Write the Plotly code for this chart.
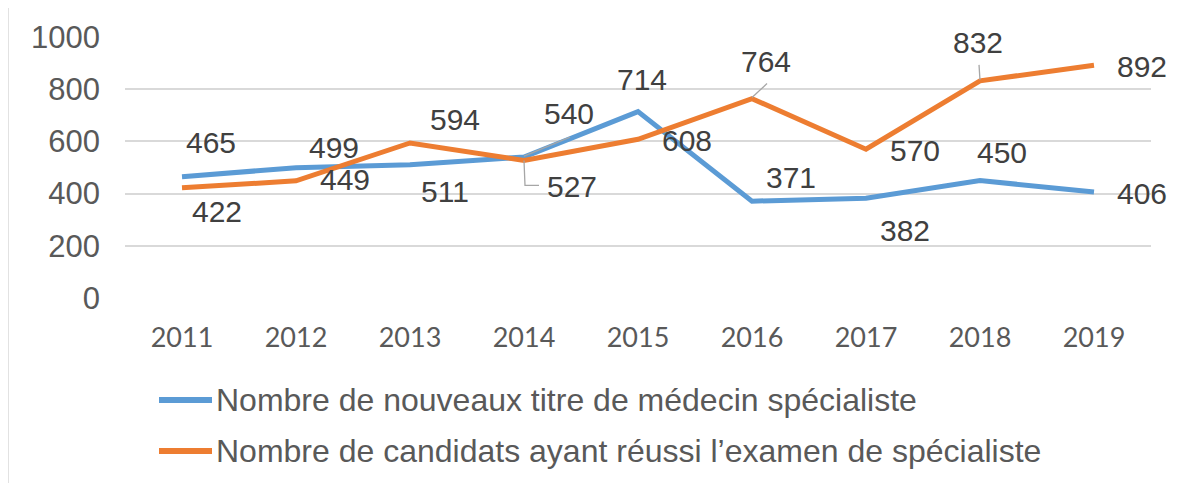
import plotly.graph_objects as go

years = [2011, 2012, 2013, 2014, 2015, 2016, 2017, 2018, 2019]
titres = [465, 499, 511, 540, 714, 371, 382, 450, 406]
reussis = [422, 449, 594, 527, 608, 764, 570, 832, 892]
name_titres = "Nombre de nouveaux titre de médecin spécialiste"
name_reussis = "Nombre de candidats ayant réussi l’examen de spécialiste"
y_ticks = [0, 200, 400, 600, 800, 1000]

# label offsets in pixels (dx right, dy down)
off_titres = [(29, -34), (38, -20), (35, 27), (45, -44), (4, -32), (39, -24), (39, 32), (22, -28), (48, 1)]
off_reussis = [(35, 24), (49, -1), (45, -23), (48, 26), (49, 1), (14, -37), (49, 1), (-2, -38), (48, 1)]

BLUE = "#5b9bd5"
ORANGE = "#ed7d31"
W, H = 1177, 483
OFF = 8  # browser body margin
# plot area in page pixels: x 125..1151, y 37..298
PX0, PX1, PY0, PY1 = 125, 1151, 37, 298
L, T = PX0 - OFF, PY0 - OFF
R, B = W - (PX1 - OFF), H - (PY1 - OFF)
PW, PH = PX1 - PX0, PY1 - PY0

def px(x):
    return (x - PX0) / PW

def py(y):
    return (PY1 - y) / PH

fig = go.Figure()
fig.add_trace(go.Scatter(x=years, y=titres, mode="lines", name=name_titres,
                         line=dict(color=BLUE, width=5), showlegend=False))
fig.add_trace(go.Scatter(x=years, y=reussis, mode="lines", name=name_reussis,
                         line=dict(color=ORANGE, width=5), showlegend=False))

annotations = []
for series, offs in ((titres, off_titres), (reussis, off_reussis)):
    for yr, v, (dx, dy) in zip(years, series, offs):
        annotations.append(dict(x=yr, y=v, xref="x", yref="y", text=str(v), showarrow=False,
                                xshift=dx, yshift=-dy,
                                font=dict(family="Liberation Sans, Arial", size=30, color="#404040")))

# manual legend
for i, nm in enumerate((name_titres, name_reussis)):
    yy = 400 + i * 51
    annotations.append(dict(xref="paper", yref="paper", x=px(214), y=py(yy), text=nm,
                            showarrow=False, xanchor="left", yanchor="middle",
                            font=dict(family="Liberation Sans, Arial", size=32, color="#595959")))

shapes = []
for i, col in enumerate((BLUE, ORANGE)):
    yy = 400 + i * 51
    shapes.append(dict(type="line", xref="paper", yref="paper", x0=px(159), x1=px(212),
                       y0=py(yy), y1=py(yy), line=dict(color=col, width=6)))

# leader lines (pixel offsets anchored to data points)
GRAY = "#a6a6a6"
def leader(xv, yv, path):
    return dict(type="path", xref="x", yref="y", xsizemode="pixel", ysizemode="pixel",
                xanchor=xv, yanchor=yv, path=path, line=dict(color=GRAY, width=1.3))

shapes.append(leader(years[3], titres[3], "M0,1 L46,20"))
shapes.append(leader(years[3], reussis[3], "M0,0 L1,-25 L15,-25"))
shapes.append(leader(years[5], reussis[5], "M0,1 L15,15"))
shapes.append(leader(years[7], reussis[7], "M0,1 L-1,16"))

# outer frame
shapes.append(dict(type="rect", xref="paper", yref="paper", x0=px(8), x1=px(1200),
                   y0=py(5), y1=py(520), line=dict(color="#d9d9d9", width=1.5),
                   fillcolor="rgba(0,0,0,0)", layer="below"))

fig.update_layout(
    width=W, height=H, margin=dict(l=L, r=R, t=T, b=B),
    paper_bgcolor="white", plot_bgcolor="white",
    annotations=annotations, shapes=shapes, showlegend=False,
    xaxis=dict(range=[years[0] - 0.5, years[-1] + 0.5], tickvals=years,
               ticktext=[str(y) for y in years], showgrid=False, zeroline=False,
               showline=False, ticks="", ticklabelstandoff=21,
               tickfont=dict(family="Lato", size=27, color="#595959")),
    yaxis=dict(range=[0, 1000], tickvals=y_ticks, showgrid=True, gridcolor="#d9d9d9",
               gridwidth=1.5, zeroline=False, showline=False, ticks="", ticklabelstandoff=24,
               tickfont=dict(family="Liberation Sans, Arial", size=31, color="#595959")),
)

fig.write_html("out.html")
